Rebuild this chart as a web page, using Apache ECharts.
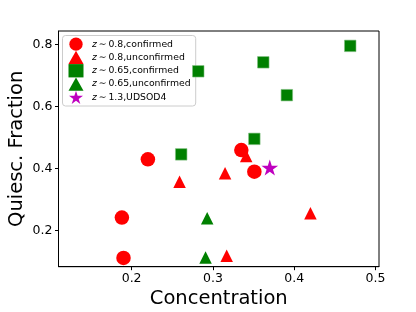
<!DOCTYPE html>
<html><head><meta charset="utf-8">
<script src="https://cdn.jsdelivr.net/npm/echarts@6/dist/echarts.min.js"></script>
<style>html,body{margin:0;padding:0;background:#fff}#c{width:416px;height:312px}</style>
</head><body><div id="c"></div>
<script>
// Data
const redCircles = [[0.220,0.429],[0.188,0.241],[0.190,0.111],[0.335,0.459],[0.351,0.389]];
const redTriangles = [[0.259,0.357],[0.315,0.384],[0.341,0.440],[0.420,0.255],[0.317,0.118]];
const greenSquares = [[0.261,0.445],[0.282,0.713],[0.362,0.742],[0.391,0.636],[0.351,0.495],[0.469,0.795]];
const greenTriangles = [[0.293,0.239],[0.291,0.112]];
const udsod4 = [[0.370,0.400]];
const seriesNames = ['z ~ 0.8,confirmed','z ~ 0.8,unconfirmed','z ~ 0.65,confirmed','z ~ 0.65,unconfirmed','z ~ 1.3,UDSOD4'];
const xTicks = [0.2,0.3,0.4,0.5];
const yTicks = [0.2,0.4,0.6,0.8];

const FONT = 'DejaVu Sans';
const starPath = 'path://M0 -1 L0.2245 -0.309 L0.9511 -0.309 L0.3633 0.118 L0.5878 0.809 L0 0.382 L-0.5878 0.809 L-0.3633 0.118 L-0.9511 -0.309 L-0.2245 -0.309 Z';

const chart = echarts.init(document.getElementById('c'), null, {renderer:'canvas'});
chart.setOption({
  animation: false,
  textStyle: {fontFamily: FONT},
  grid: {left: 58.5, right: 37, top: 31, bottom: 45.3, outerBoundsMode: 'none', containLabel: false, show: true, borderColor: '#000', borderWidth: 1, backgroundColor: 'transparent'},
  xAxis: {
    type: 'value', min: 0.110, max: 0.5044,
    name: 'Concentration', nameLocation: 'middle', nameGap: 22, nameMoveOverlap: false,
    nameTextStyle: {fontFamily: FONT, fontSize: 19.5, color: '#000'},
    axisLine: {show: true, onZero: false, lineStyle: {color: '#000', width: 1}},
    axisTick: {show: true, length: 3.5, lineStyle: {color: '#000'}, customValues: xTicks},
    axisLabel: {fontFamily: FONT, fontSize: 12.5, color: '#000', margin: 6, customValues: xTicks, formatter: v => v.toFixed(1)},
    splitLine: {show: false}
  },
  yAxis: {
    type: 'value', min: 0.0826, max: 0.843,
    name: 'Quiesc. Fraction', nameLocation: 'middle', nameGap: 31.5, nameMoveOverlap: false,
    nameTextStyle: {fontFamily: FONT, fontSize: 19.5, color: '#000'},
    axisLine: {show: true, onZero: false, lineStyle: {color: '#000', width: 1}},
    axisTick: {show: true, length: 3.5, lineStyle: {color: '#000'}, customValues: yTicks},
    axisLabel: {fontFamily: FONT, fontSize: 12.5, color: '#000', margin: 6, customValues: yTicks, formatter: v => v.toFixed(1)},
    splitLine: {show: false}
  },
  legend: {
    orient: 'vertical', left: 62.5, top: 35.5,
    itemWidth: 15, itemHeight: 13.3, itemGap: 0,
    padding: [2, 5, 2, 6],
    backgroundColor: 'rgba(255,255,255,0.8)', borderColor: '#cccccc', borderWidth: 1, borderRadius: 3,
    textStyle: {fontFamily: FONT, fontSize: 9.3, color: '#000',
      rich: {i: {fontFamily: FONT, fontSize: 9.3, fontStyle: 'italic', color: '#000', padding: [0,0,0,3.5]},
             t: {fontFamily: FONT, fontSize: 9.3, color: '#000'}}},
    formatter: n => '{i|z}{t|\u2009\u223C\u2009' + n.replace(/^z ~ /, '') + '}',
    data: seriesNames.map(n => ({name: n, itemStyle: {borderWidth: 0}}))
  },
  series: [
    {name: seriesNames[0], type: 'scatter', data: redCircles, symbol: 'circle', symbolSize: 14.5, itemStyle: {color: '#ff0000', opacity: 1}, z: 2},
    {name: seriesNames[1], type: 'scatter', data: redTriangles, symbol: 'triangle', symbolSize: 12.5, itemStyle: {color: '#ff0000', opacity: 1}, z: 3},
    {name: seriesNames[2], type: 'scatter', data: greenSquares, symbol: 'rect', symbolSize: 11.5, itemStyle: {color: '#008000', opacity: 1, borderColor: '#7fbf7f', borderWidth: 0.6}, z: 4},
    {name: seriesNames[3], type: 'scatter', data: greenTriangles, symbol: 'triangle', symbolSize: 12.5, itemStyle: {color: '#008000', opacity: 1}, z: 5},
    {name: seriesNames[4], type: 'scatter', data: udsod4, symbol: starPath, symbolSize: [16.7, 15.9], symbolOffset: [0, -0.8], itemStyle: {color: '#bf00bf', opacity: 1}, z: 6}
  ]
});
</script></body></html>
